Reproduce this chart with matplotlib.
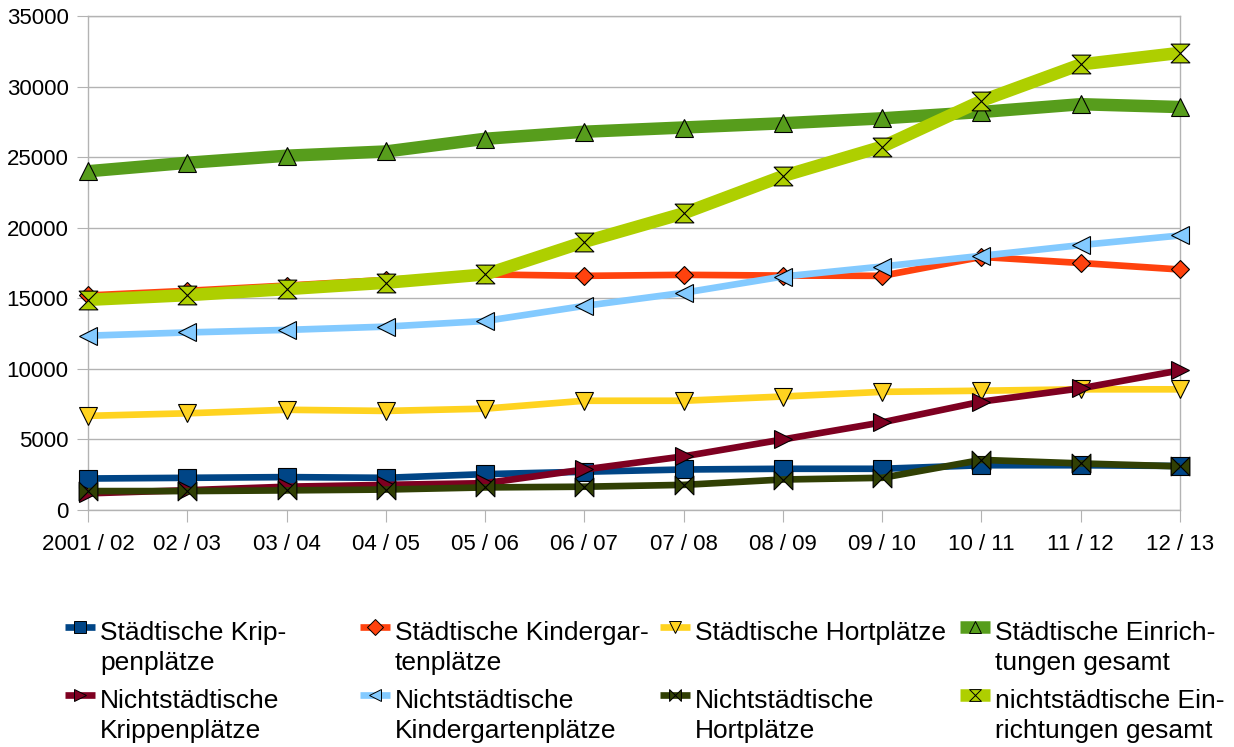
import matplotlib
matplotlib.use("Agg")
import matplotlib.pyplot as plt
from matplotlib.lines import Line2D
from matplotlib.path import Path
import numpy as np

plt.rcParams['font.family'] = ['Liberation Sans', 'DejaVu Sans']

# School years and place counts per series
categories = ["2001 / 02", "02 / 03", "03 / 04", "04 / 05", "05 / 06", "06 / 07",
              "07 / 08", "08 / 09", "09 / 10", "10 / 11", "11 / 12", "12 / 13"]

staedt_krippe = [2230, 2280, 2330, 2280, 2540, 2710, 2870, 2920, 2920, 3170, 3170, 3120]
staedt_kiga = [15200, 15530, 15900, 16300, 16690, 16590, 16660, 16610, 16590, 17930, 17500, 17040]
staedt_hort = [6670, 6850, 7100, 7020, 7180, 7740, 7740, 8040, 8370, 8450, 8550, 8550]
staedt_gesamt = [24000, 24600, 25100, 25400, 26300, 26800, 27100, 27400, 27750, 28200, 28750, 28550]
nicht_krippe = [1180, 1400, 1650, 1780, 1900, 2870, 3800, 5000, 6210, 7680, 8620, 9890]
nicht_kiga = [12350, 12580, 12760, 12990, 13390, 14460, 15390, 16540, 17250, 18010, 18770, 19450]
nicht_hort = [1340, 1340, 1390, 1450, 1600, 1650, 1780, 2160, 2280, 3550, 3300, 3090]
nicht_gesamt = [14890, 15220, 15650, 16100, 16690, 19000, 21020, 23660, 25740, 28990, 31570, 32390]

labels = ["Städtische Krip-\npenplätze",
          "Städtische Kindergar-\ntenplätze",
          "Städtische Hortplätze",
          "Städtische Einrich-\ntungen gesamt",
          "Nichtstädtische\nKrippenplätze",
          "Nichtstädtische\nKindergartenplätze",
          "Nichtstädtische\nHortplätze",
          "nichtstädtische Ein-\nrichtungen gesamt"]

# custom markers: hourglass and bow-tie
hourglass = Path([(-1, 1), (1, 1), (-1, -1), (1, -1), (-1, 1)],
                 [Path.MOVETO, Path.LINETO, Path.LINETO, Path.LINETO, Path.CLOSEPOLY])
bowtie = Path([(-1, 1), (-1, -1), (1, 1), (1, -1), (-1, 1)],
              [Path.MOVETO, Path.LINETO, Path.LINETO, Path.LINETO, Path.CLOSEPOLY])

series = [
    (staedt_krippe, "#004586", "s", 13.0, 4.8),
    (staedt_kiga, "#ff420e", "D", 9.3, 4.8),
    (staedt_hort, "#ffd320", "v", 13.5, 4.8),
    (staedt_gesamt, "#579d1c", "^", 13.5, 9.0),
    (nicht_krippe, "#7e0021", ">", 13.5, 4.8),
    (nicht_kiga, "#83caff", "<", 13.5, 4.8),
    (nicht_hort, "#314004", bowtie, 13.5, 4.8),
    (nicht_gesamt, "#aecf00", hourglass, 13.5, 9.0),
]

W, H = 1234, 747
fig = plt.figure(figsize=(W / 100, H / 100), dpi=100)
ax = fig.add_axes([88 / W, 1 - 510 / H, (1180 - 88) / W, (510 - 16) / H])

x = np.arange(len(categories))
for i, (vals, col, mk, ms, lw) in enumerate(series):
    ax.plot(x, vals, color=col, lw=lw, marker=mk, markersize=ms,
            markerfacecolor=col, markeredgecolor="black", markeredgewidth=0.8,
            solid_joinstyle="round", solid_capstyle="butt", zorder=3 + i,
            clip_on=False)

grid_col = "#b3b3b3"
ax.set_xlim(0, len(categories) - 1)
ax.set_ylim(0, 35000)
ax.set_yticks(np.arange(0, 35001, 5000))
ax.set_xticks(x)
ax.set_xticklabels(categories)
ax.yaxis.grid(True, color=grid_col, lw=1.0)
ax.set_axisbelow(True)
for side in ["left", "right", "bottom", "top"]:
    ax.spines[side].set_color(grid_col)
    ax.spines[side].set_linewidth(1.0)
ax.tick_params(axis="y", length=8, color=grid_col, pad=6.0, labelsize=16)
ax.tick_params(axis="x", length=8.5, color=grid_col, pad=8.5, labelsize=16)

# legend in four equal columns, two rows
text_x = [100, 395, 695, 995]
rows = [(621, 627), (689, 695)]
for k, (vals, col, mk, ms, lw) in enumerate(series):
    r, c = divmod(k, 4)
    top_y, handle_y = rows[r]
    tx = text_x[c]
    hx = [(tx - 35) / W, (tx - 20) / W, (tx - 5) / W]
    hy = [1 - handle_y / H] * 3
    fig.add_artist(Line2D(hx, hy, transform=fig.transFigure, color=col, lw=lw,
                          marker=mk, markersize=8.5, markevery=[1],
                          markerfacecolor=col, markeredgecolor="black",
                          markeredgewidth=0.7, solid_capstyle="butt"))
    fig.text(tx / W, 1 - top_y / H, labels[k], fontsize=19, va="top",
             ha="left", linespacing=1.3)

fig.savefig("out.png", dpi=100)
